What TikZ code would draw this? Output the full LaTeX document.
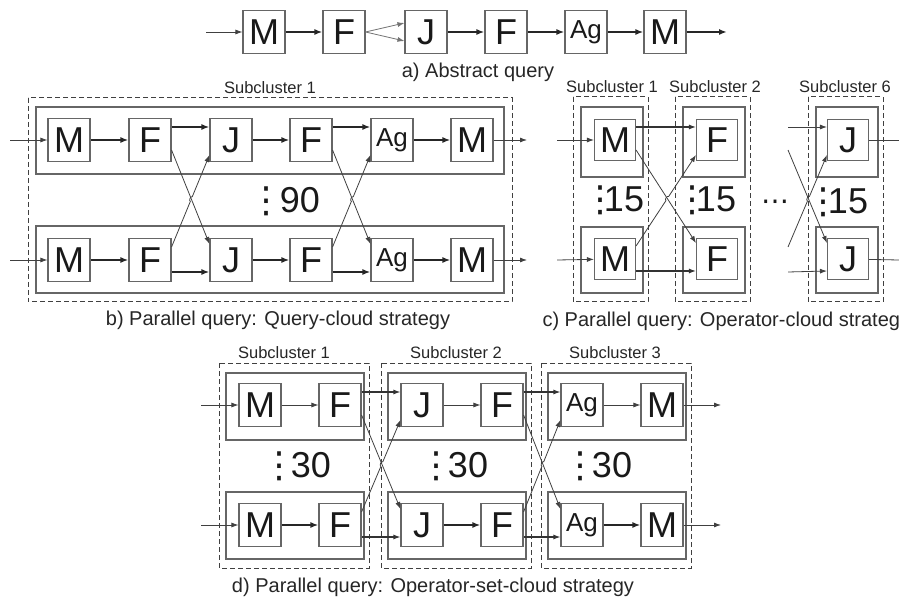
\documentclass[tikz,border=0pt]{standalone}
\usepackage{fontspec}
\setmainfont{Liberation Sans}
\newfontfamily\dejavu{DejaVu Sans}
\usetikzlibrary{arrows.meta,calc}

\newcommand{\agtext}{\fontsize{26}{30}\selectfont Ag}

\tikzset{
  op/.style={draw=black!60, line width=1.1pt, minimum width=42pt, minimum height=43pt, inner sep=0pt, text=black!90, font=\fontsize{36}{40}\selectfont},
  link/.style={draw=black!85, line width=1.7pt, -{Latex[length=8pt,width=6pt]}},
  midlink/.style={draw=black!80, line width=1.2pt, -{Latex[length=7pt,width=5pt]}},
  thinlink/.style={draw=black!75, line width=0.8pt, -{Latex[length=7pt,width=5pt]}},
  group/.style={draw=black!60, line width=1.1pt},
  cluster/.style={draw=black!75, line width=1pt, dash pattern=on 5pt off 3pt},
  caption/.style={text=black!85, font=\fontsize{20}{24}\selectfont},
  sublabel/.style={text=black!85, font=\fontsize{16.5}{20}\selectfont},
  count/.style={anchor=base, inner sep=0pt, text=black!90, font=\fontsize{36}{40}\selectfont}
}

\begin{document}
\begin{tikzpicture}[x=1pt, y=-1pt]
\useasboundingbox (0,0) rectangle (899,601);

\foreach \xa/\lab [count=\i] in {264/M,344/F,426/J,506/F,586/\agtext,665/M}
  \node[op] (a\i) at (\xa,32) {\lab};
\coordinate (ain) at (206,32);
\coordinate (aout) at (727,32);
\draw[thinlink] (ain) -- (a1);
\draw[link] (a1) -- (a2);
\draw[thinlink, draw=black!55] (a2.east) -- ([yshift=9pt]a3.west);
\draw[thinlink, draw=black!55] (a2.east) -- ([yshift=-9pt]a3.west);
\draw[link] (a3) -- (a4);
\draw[link] (a4) -- (a5);
\draw[link] (a5) -- (a6);
\draw[link] (a6) -- (aout);
\node[caption] (acap) at (478,72) {a) Abstract query};

\draw[cluster] (28,98) rectangle (512,302);
\draw[group] (36,107) rectangle (504,174);
\draw[group] (36,226) rectangle (504,293);
\node[sublabel] (bsub) at (270,88) {Subcluster 1};
\foreach \xa/\lab [count=\i] in {69/M,150/F,231/J,311/F,392/\agtext,472/M} {
  \node[op] (bt\i) at (\xa,140) {\lab};
  \node[op] (bb\i) at (\xa,260) {\lab};
}
\foreach \row/\yy in {t/140,b/260} {
  \coordinate (bin\row) at (10,\yy);
  \coordinate (bout\row) at (527,\yy);
  \draw[thinlink] (bin\row) -- (b\row1);
  \draw[link] (b\row1) -- (b\row2);
  \draw[link] (b\row3) -- (b\row4);
  \draw[link] (b\row5) -- (b\row6);
  \draw[thinlink] (b\row6) -- (bout\row);
}
\node[count] (bdots) at (266,213) {\dejavu ⋮};
\node[count] (bnum) at (300,213) {90};
\node[caption] (bcap) at (278,320) {b) Parallel query: Query-cloud strategy};

\foreach \xa in {573,675,808} {
  \draw[cluster] (\xa,97) rectangle (\xa+75,302);
  \draw[group] (\xa+8,107) rectangle (\xa+70,177);
  \draw[group] (\xa+8,227) rectangle (\xa+70,293);
}
\node[sublabel] (csub1) at (612,87) {Subcluster 1};
\node[sublabel] (csub2) at (715,87) {Subcluster 2};
\node[sublabel] (csub6) at (845,87) {Subcluster 6};
\foreach \xa/\lab in {615/M,717/F,848/J} {
  \node[op, minimum width=41pt, minimum height=41pt] (c\lab t) at (\xa,140) {\lab};
  \node[op, minimum width=41pt, minimum height=41pt] (c\lab b) at (\xa,259) {\lab};
}
\coordinate (cint) at (557,140);
\coordinate (cinb) at (557,260);
\coordinate (cxt) at (788,140);
\coordinate (cxb) at (788,260);
\coordinate (coutt) at (899,140);
\coordinate (coutb) at (899,260);
\draw[thinlink] (cint) -- (cMt);
\draw[thinlink] (cinb) -- (cMb);
\draw[thinlink, -] (cJt) -- (coutt);
\draw[thinlink, -] (cJb) -- (coutb);
\node[count] (cdots1) at (600,212) {\dejavu ⋮};
\node[count] (cnum1) at (624,212) {15};
\node[count] (cdots2) at (692,212) {\dejavu ⋮};
\node[count] (cnum2) at (716,212) {15};
\node[count] (cdots6) at (823,214) {\dejavu ⋮};
\node[count] (cnum6) at (848,214) {15};
\node[text=black!90, font=\fontsize{28}{30}\selectfont] (cskip) at (775,205) {\dejavu ⋯};
\node[caption, anchor=west] (ccap) at (539,321) {c) Parallel query: Operator-cloud strategy};

\foreach \xa in {219,381,541} {
  \draw[cluster] (\xa,363) rectangle (\xa+150,568);
  \draw[group] (\xa+7,373) rectangle (\xa+145,440);
  \draw[group] (\xa+7,492) rectangle (\xa+145,559);
}
\node[sublabel] (dsub1) at (284,353) {Subcluster 1};
\node[sublabel] (dsub2) at (456,353) {Subcluster 2};
\node[sublabel] (dsub3) at (615,353) {Subcluster 3};
\foreach \xa/\lab [count=\i] in {260/M,340/F,422/J,502/F,582/\agtext,662/M} {
  \node[op] (dt\i) at (\xa,405) {\lab};
  \node[op] (db\i) at (\xa,525) {\lab};
}
\foreach \row/\yy in {t/405,b/525} {
  \coordinate (din\row) at (201,\yy);
  \coordinate (dout\row) at (721,\yy);
  \draw[thinlink] (din\row) -- (d\row1);
  \draw[thinlink] (d\row6) -- (dout\row);
}
\draw[thinlink] (dt1) -- (dt2);
\draw[link] (db1) -- (db2);
\draw[thinlink] (dt3) -- (dt4);
\draw[link] (db3) -- (db4);
\draw[thinlink] (dt5) -- (dt6);
\draw[link] (db5) -- (db6);
\foreach \xd/\xn [count=\i] in {279/311,436/468,580/612} {
  \node[count] (ddots\i) at (\xd,477) {\dejavu ⋮};
  \node[count] (dnum\i) at (\xn,477) {30};
}
\node[caption] (dcap) at (433,587) {d) Parallel query: Operator-set-cloud strategy};

\foreach \sa/\ta/\sb/\tb/\w in {bt2/bt3/bb2/bb3/link, bt4/bt5/bb4/bb5/link, cMt/cFt/cMb/cFb/midlink, cxt/cJt/cxb/cJb/thinlink, dt2/dt3/db2/db3/midlink, dt4/dt5/db4/db5/midlink} {
  \draw[\w] ([yshift=13pt]\sa.east) -- ([yshift=13pt]\ta.west);
  \draw[\w] ([yshift=-12pt]\sb.east) -- ([yshift=-12pt]\tb.west);
  \coordinate (p1) at ([yshift=-10pt]\sa.east);
  \coordinate (p2) at ([yshift=16pt]\tb.west);
  \coordinate (q1) at ([yshift=13pt]\sb.east);
  \coordinate (q2) at ([yshift=-15pt]\ta.west);
  \coordinate (hop) at (intersection of p1--p2 and q1--q2);
  \draw[thinlink] (p1) -- (p2);
  \draw[thinlink] (q1) -- ($(hop)!2.5pt!(q1)$) to[bend left=90] ($(hop)!2.5pt!(q2)$) -- (q2);
}
\end{tikzpicture}
\end{document}
